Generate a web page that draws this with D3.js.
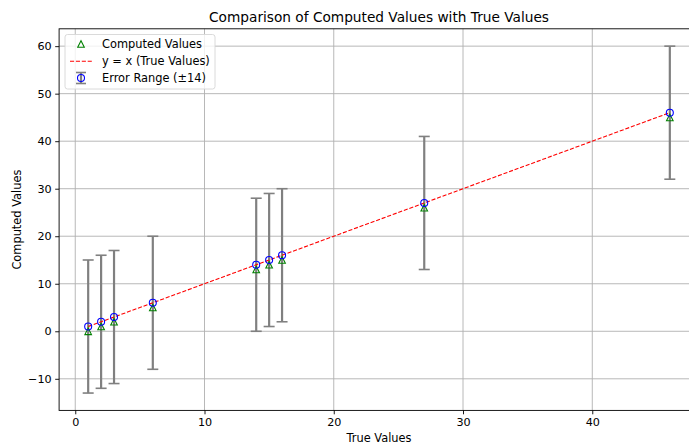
<!DOCTYPE html>
<html>
<head>
<meta charset="utf-8">
<script src="https://cdn.jsdelivr.net/npm/d3@7"></script>
<style>
  body { margin: 0; background: #fff; }
  text { font-family: "DejaVu Sans", sans-serif; fill: #000; }
</style>
</head>
<body>
<div id="main"><svg width="689" height="444"></svg></div>
<script>
// data
var trueValues = [1, 2, 3, 6, 14, 15, 16, 27, 46];
var computedValues = [0, 1, 2, 5, 13, 14, 15, 26, 45];
var errorSize = 14;
var xTicks = [0, 10, 20, 30, 40];
var yTicks = [-10, 0, 10, 20, 30, 40, 50, 60];
var legendLabels = ["Computed Values", "y = x (True Values)", "Error Range (\u00b114)"];

var svg = d3.select("#main svg");

var plot = {l: 59.1, r: 698.9, t: 28.8, b: 410.4};

var xScale = d3.scaleLinear()
  .domain([-1.25, 48.25])
  .range([plot.l, plot.r]);

var yScale = d3.scaleLinear()
  .domain([-16.65, 63.65])
  .range([plot.b, plot.t]);

var points = trueValues.map(function(t, i) {
  return {x: t, y: computedValues[i]};
});

// grid
var grid = svg.append('g');
grid.selectAll('.vgrid').data(xTicks)
  .enter().append('line')
  .attr('x1', function(d) {return xScale(d);})
  .attr('x2', function(d) {return xScale(d);})
  .attr('y1', plot.t).attr('y2', plot.b)
  .attr('stroke', '#b0b0b0').attr('stroke-width', 0.9);
grid.selectAll('.hgrid').data(yTicks)
  .enter().append('line')
  .attr('y1', function(d) {return yScale(d);})
  .attr('y2', function(d) {return yScale(d);})
  .attr('x1', plot.l).attr('x2', plot.r)
  .attr('stroke', '#b0b0b0').attr('stroke-width', 0.9);

// axes
var xAxis = d3.axisBottom(xScale).tickValues(xTicks).tickSizeOuter(0).tickSize(3.9).tickPadding(3.5);
var yAxis = d3.axisLeft(yScale).tickValues(yTicks).tickSizeOuter(0).tickSize(3.9).tickPadding(3.5)
  .tickFormat(function(d) {return d < 0 ? '\u2212' + Math.abs(d) : d;});

var gx = svg.append('g')
  .attr('transform', 'translate(' + [0, plot.b] + ')')
  .call(xAxis);
var gy = svg.append('g')
  .attr('transform', 'translate(' + [plot.l, 0] + ')')
  .call(yAxis);
[gx, gy].forEach(function(g) {
  g.select('.domain').remove();
  g.selectAll('line').attr('stroke', '#000').attr('stroke-width', 0.9);
  g.selectAll('text').style('font-size', '11.2px').style('font-family', '"DejaVu Sans", sans-serif');
});

// spines
svg.append('rect')
  .attr('x', plot.l).attr('y', plot.t)
  .attr('width', plot.r - plot.l).attr('height', plot.b - plot.t)
  .attr('fill', 'none').attr('stroke', '#000').attr('stroke-width', 0.9);

// error bars
var errG = svg.append('g');
errG.selectAll('.ebar').data(trueValues)
  .enter().append('line')
  .attr('x1', function(d) {return xScale(d);})
  .attr('x2', function(d) {return xScale(d);})
  .attr('y1', function(d) {return yScale(d - errorSize);})
  .attr('y2', function(d) {return yScale(d + errorSize);})
  .attr('stroke', '#808080').attr('stroke-width', 2.2);
[-1, 1].forEach(function(s) {
  errG.selectAll('.cap' + s).data(trueValues)
    .enter().append('line')
    .attr('x1', function(d) {return xScale(d) - 5.5;})
    .attr('x2', function(d) {return xScale(d) + 5.5;})
    .attr('y1', function(d) {return yScale(d + s * errorSize);})
    .attr('y2', function(d) {return yScale(d + s * errorSize);})
    .attr('stroke', '#808080').attr('stroke-width', 1.6);
});

// triangles
function triPath(h) {
  return 'M0,' + (-h / 2) + 'L' + (-h / 2) + ',' + (h / 2) + 'L' + (h / 2) + ',' + (h / 2) + 'Z';
}
svg.append('g').selectAll('.tri').data(points)
  .enter().append('path')
  .attr('d', triPath(6.6))
  .attr('transform', function(d) {return 'translate(' + [xScale(d.x), yScale(d.y)] + ')';})
  .attr('fill', 'none').attr('stroke', 'green').attr('stroke-width', 1.1);

// y = x line
var extent = d3.extent(trueValues);
svg.append('line')
  .attr('x1', xScale(extent[0])).attr('y1', yScale(extent[0]))
  .attr('x2', xScale(extent[1])).attr('y2', yScale(extent[1]))
  .attr('stroke', 'red').attr('stroke-width', 1.1)
  .attr('stroke-dasharray', '4.1,1.8');

// circles
svg.append('g').selectAll('.dot').data(trueValues)
  .enter().append('circle')
  .attr('cx', function(d) {return xScale(d);})
  .attr('cy', function(d) {return yScale(d);})
  .attr('r', 3.5)
  .attr('fill', 'none').attr('stroke', 'blue').attr('stroke-width', 1.1);

// labels
svg.append('text')
  .attr('x', (plot.l + plot.r) / 2).attr('y', 22)
  .attr('text-anchor', 'middle').style('font-size', '13.7px')
  .text('Comparison of Computed Values with True Values');
svg.append('text')
  .attr('x', (plot.l + plot.r) / 2).attr('y', 442)
  .attr('text-anchor', 'middle').style('font-size', '11.4px')
  .text('True Values');
svg.append('text')
  .attr('transform', 'translate(' + [21, (plot.t + plot.b) / 2] + ') rotate(-90)')
  .attr('text-anchor', 'middle').style('font-size', '11.4px')
  .text('Computed Values');

// legend
var legend = svg.append('g').attr('transform', 'translate(' + [65, 34.5] + ')');
legend.append('rect')
  .attr('width', 150).attr('height', 54.5).attr('rx', 2.5)
  .attr('fill', 'white').attr('fill-opacity', 0.8)
  .attr('stroke', '#d6d6d6').attr('stroke-width', 0.9);
var rowsY = [9.5, 26.8, 43.5];
legend.selectAll('.ltext').data(legendLabels)
  .enter().append('text')
  .attr('x', 37).attr('y', function(d, i) {return rowsY[i];})
  .attr('dy', '0.35em').style('font-size', '11.4px')
  .text(function(d) {return d;});
legend.append('path')
  .attr('d', triPath(6.6))
  .attr('transform', 'translate(' + [16, rowsY[0]] + ')')
  .attr('fill', 'none').attr('stroke', 'green').attr('stroke-width', 1.1);
legend.append('line')
  .attr('x1', 5).attr('x2', 27).attr('y1', rowsY[1]).attr('y2', rowsY[1])
  .attr('stroke', 'red').attr('stroke-width', 1.1).attr('stroke-dasharray', '4.1,1.8');
legend.append('line')
  .attr('x1', 16).attr('x2', 16).attr('y1', rowsY[2] - 5.5).attr('y2', rowsY[2] + 5.5)
  .attr('stroke', '#808080').attr('stroke-width', 2.2);
[-5.5, 5.5].forEach(function(o) {
  legend.append('line')
    .attr('x1', 11).attr('x2', 21).attr('y1', rowsY[2] + o).attr('y2', rowsY[2] + o)
    .attr('stroke', '#808080').attr('stroke-width', 1.6);
});
legend.append('circle')
  .attr('cx', 16).attr('cy', rowsY[2]).attr('r', 3.5)
  .attr('fill', 'none').attr('stroke', 'blue').attr('stroke-width', 1.1);
</script>
</body>
</html>
